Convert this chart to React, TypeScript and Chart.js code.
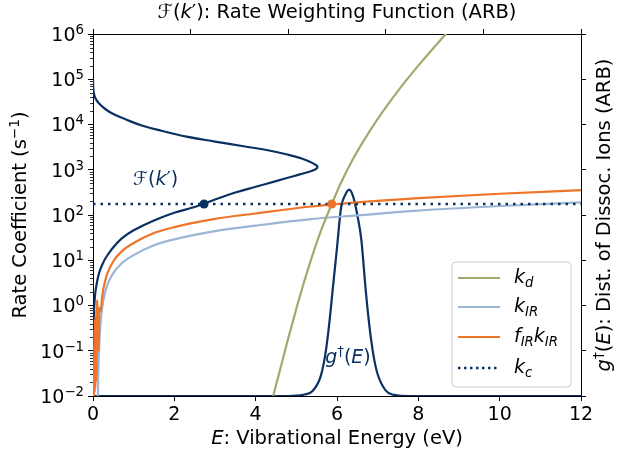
import React, { useEffect, useRef } from "react";
import { Chart, registerables } from "chart.js";

Chart.register(...registerables);

const FAM = "'DejaVu Sans', sans-serif";
const FS = 19;
const TFS = 19.5;

const NAVY = "#0b3162";
const OLIVE = "#a2a86e";
const LBLUE = "#9db5d4";
const ORANGE = "#ee7427";

// ---- axis ticks ----
const xTickVals = [0, 2, 4, 6, 8, 10, 12];
const yExponents = [-2, -1, 0, 1, 2, 3, 4, 5, 6];

// ---- k_d (dissociation rate) ----
const kdEnergy = [4.43, 4.6, 4.8, 5.0, 5.2, 5.4, 5.6, 5.87, 6.1, 6.4, 6.8, 7.2, 7.6, 8.0, 8.4, 8.8, 9.2];
const kdRate = [0.01, 0.038, 0.186, 0.85, 3.55, 13.2, 43.6, 174, 525, 1780, 7080, 24000, 72400, 200000, 525000, 1320000, 3160000];

// ---- k_IR ----
const kirEnergy = [0.12, 0.125, 0.14, 0.17, 0.2, 0.25, 0.35, 0.5, 0.7, 1.0, 1.5, 2.0, 3.0, 4.0, 5.3, 6.5, 8.0, 10.0, 12.0];
const kirRate = [0.01, 0.02, 0.063, 0.25, 0.56, 1.25, 2.8, 5.2, 8.5, 13, 21.5, 29, 44, 58, 80, 98, 125, 158, 190];

// ---- f_IR k_IR ----
const fkirEnergy = [0.025, 0.035, 0.042, 0.05, 0.058, 0.066, 0.074, 0.082, 0.09, 0.1, 0.11, 0.12, 0.13, 0.14, 0.155, 0.19, 0.22, 0.25, 0.3, 0.35, 0.5, 0.7, 1.0, 1.5, 2.0, 3.0, 4.0, 5.3, 6.5, 8.0, 10.0, 12.0];
const fkirRate = [0.01, 0.3, 0.012, 0.5, 0.015, 0.6, 0.02, 0.8, 0.03, 0.9, 1.3, 0.2, 0.7, 0.1, 0.9, 0.72, 1.4, 2.2, 3.5, 5.0, 9.5, 15.5, 24, 40, 54, 82, 108, 152, 190, 235, 295, 355];

// ---- k_c ----
const kcEnergy = [0, 12];
const kcRate = [175, 175];

// ---- F(k') rate weighting function (x: weight, y: rate) ----
const weightF = [0, 0.005, 0.02, 0.06, 0.15, 0.3, 0.5, 0.8, 1.2, 1.7, 2.3, 3.0, 3.7, 4.3, 4.8, 5.15, 5.4, 5.52, 5.45, 5.25, 4.95, 4.5, 4.0, 3.5, 3.0, 2.5, 2.0, 1.5, 1.0, 0.7, 0.45, 0.28, 0.16, 0.09, 0.045, 0.02, 0.007, 0];
const weightK = [100000, 70000, 50000, 38000, 29000, 22000, 17000, 13000, 9500, 7200, 5400, 4200, 3300, 2700, 2150, 1750, 1400, 1170, 1000, 870, 730, 560, 420, 315, 220, 150, 112, 76, 46, 30, 17, 10, 5.6, 3.0, 1.5, 0.5, 0.1, 0.01];

// ---- g†(E) distribution of dissociating ions (ARB, right axis) ----
const gEnergy = [0, 4.8, 5.0, 5.2, 5.4, 5.6, 5.72, 5.8, 5.9, 6.0, 6.1, 6.2, 6.3, 6.4, 6.5, 6.6, 6.7, 6.8, 6.9, 7.0, 7.2, 7.4, 7.6, 8.0, 12];
const gValue = [0, 0, 0.001, 0.004, 0.014, 0.055, 0.12, 0.19, 0.3, 0.41, 0.52, 0.555, 0.57, 0.55, 0.5, 0.43, 0.3, 0.19, 0.11, 0.06, 0.015, 0.003, 0.0005, 0, 0];

// ---- crossing markers ----
const crossEnergy = [2.73, 5.87];
const crossRate = [175, 175];

type Seg = { t: string; it?: boolean; sub?: boolean; sup?: boolean };

const topTitle: Seg[] = [{ t: "\u2131(" }, { t: "k", it: true }, { t: "\u2032): Rate Weighting Function (ARB)" }];
const xTitle: Seg[] = [{ t: "E", it: true }, { t: ": Vibrational Energy (eV)" }];
const yTitle: Seg[] = [{ t: "Rate Coefficient (s" }, { t: "\u22121", sup: true }, { t: ")" }];
const y2Title: Seg[] = [{ t: "g", it: true }, { t: "\u2020", sup: true }, { t: "(" }, { t: "E", it: true }, { t: "): Dist. of Dissoc. Ions (ARB)" }];
const fLabel: Seg[] = [{ t: "\u2131(" }, { t: "k", it: true }, { t: "\u2032)" }];
const gLabel: Seg[] = [{ t: "g", it: true }, { t: "\u2020", sup: true }, { t: "(" }, { t: "E", it: true }, { t: ")" }];

const legendLabels: Seg[][] = [
  [{ t: "k", it: true }, { t: "d", it: true, sub: true }],
  [{ t: "k", it: true }, { t: "IR", it: true, sub: true }],
  [{ t: "f", it: true }, { t: "IR", it: true, sub: true }, { t: "k", it: true }, { t: "IR", it: true, sub: true }],
  [{ t: "k", it: true }, { t: "c", it: true, sub: true }],
];
const legendColors = [OLIVE, LBLUE, ORANGE, NAVY];
const legendDotted = [false, false, false, true];

function fontOf(s: Seg, size: number) {
  const sz = s.sub || s.sup ? size * 0.7 : size;
  return `${s.it ? "italic " : ""}${sz}px ${FAM}`;
}
function richWidth(ctx: CanvasRenderingContext2D, segs: Seg[], size: number) {
  let w = 0;
  for (const s of segs) {
    ctx.font = fontOf(s, size);
    w += ctx.measureText(s.t).width;
  }
  return w;
}
function drawRich(
  ctx: CanvasRenderingContext2D,
  segs: Seg[],
  x: number,
  y: number,
  size: number,
  color: string,
  align: "left" | "center" | "right" = "center",
  rot = 0
) {
  ctx.save();
  ctx.translate(x, y);
  if (rot) ctx.rotate(rot);
  ctx.fillStyle = color;
  ctx.textBaseline = "middle";
  ctx.textAlign = "left";
  const w = richWidth(ctx, segs, size);
  let cx = align === "center" ? -w / 2 : align === "right" ? -w : 0;
  for (const s of segs) {
    ctx.font = fontOf(s, size);
    const dy = s.sub ? size * 0.27 : s.sup ? -size * 0.3 : 0;
    ctx.fillText(s.t, cx, dy);
    cx += ctx.measureText(s.t).width;
  }
  ctx.restore();
}

const textPlugin = {
  id: "richText",
  afterDraw(chart: any) {
    const ctx: CanvasRenderingContext2D = chart.ctx;
    const ca = chart.chartArea;
    const yS = chart.scales.y;
    // minor log ticks on the left axis
    ctx.save();
    ctx.strokeStyle = "#000";
    ctx.lineWidth = 0.8;
    for (let e = -2; e < 6; e++) {
      for (let m = 2; m <= 9; m++) {
        const py = Math.round(yS.getPixelForValue(m * Math.pow(10, e))) + 0.5;
        ctx.beginPath();
        ctx.moveTo(ca.left, py);
        ctx.lineTo(ca.left - 3, py);
        ctx.stroke();
      }
    }
    ctx.restore();
    // left tick labels 10^n
    for (const e of yExponents) {
      const py = yS.getPixelForValue(Math.pow(10, e));
      const exp = e < 0 ? "\u2212" + -e : String(e);
      drawRich(ctx, [{ t: "10" }, { t: exp, sup: true }], ca.left - 9, py + 2, FS, "#000", "right");
    }
    const cx = (ca.left + ca.right) / 2;
    const cy = (ca.top + ca.bottom) / 2;
    drawRich(ctx, topTitle, cx, 13, TFS, "#000", "center");
    drawRich(ctx, xTitle, cx, 439, TFS, "#000", "center");
    drawRich(ctx, yTitle, 21, cy, TFS, "#000", "center", -Math.PI / 2);
    drawRich(ctx, y2Title, 605, cy, TFS, "#000", "center", -Math.PI / 2);

    // in-plot labels
    const xS = chart.scales.x;
    drawRich(ctx, fLabel, xS.getPixelForValue(1.54), yS.getPixelForValue(600), FS, NAVY, "center");
    drawRich(ctx, gLabel, xS.getPixelForValue(6.27), yS.getPixelForValue(0.07), FS, NAVY, "center");

    // legend
    const lx = ca.right - 129;
    const ly = ca.bottom - 134;
    const lw = 119;
    const lh = 125;
    ctx.save();
    ctx.beginPath();
    const r = 4;
    ctx.moveTo(lx + r, ly);
    ctx.arcTo(lx + lw, ly, lx + lw, ly + lh, r);
    ctx.arcTo(lx + lw, ly + lh, lx, ly + lh, r);
    ctx.arcTo(lx, ly + lh, lx, ly, r);
    ctx.arcTo(lx, ly, lx + lw, ly, r);
    ctx.closePath();
    ctx.fillStyle = "rgba(255,255,255,0.8)";
    ctx.fill();
    ctx.strokeStyle = "#cccccc";
    ctx.lineWidth = 1;
    ctx.stroke();
    ctx.restore();
    const rowY = [16, 45, 75, 106];
    legendLabels.forEach((segs, i) => {
      const yy = ly + rowY[i];
      ctx.save();
      ctx.strokeStyle = legendColors[i];
      ctx.lineWidth = legendDotted[i] ? 2.5 : 2.2;
      if (legendDotted[i]) ctx.setLineDash([2.5, 3.5]);
      ctx.beginPath();
      ctx.moveTo(lx + 6, yy);
      ctx.lineTo(lx + 48, yy);
      ctx.stroke();
      ctx.restore();
      drawRich(ctx, segs, lx + 62, yy, FS, "#000", "left");
    });
  },
};

function pts(xs: number[], ys: number[]) {
  return xs.map((x, i) => ({ x, y: ys[i] }));
}

export default function App() {
  const ref = useRef<HTMLCanvasElement | null>(null);
  useEffect(() => {
    if (!ref.current) return;
    const axisCommon = {
      border: { display: true, color: "#000", width: 1 },
    };
    const gridCommon = { drawOnChartArea: false, drawTicks: true, tickLength: 5, color: "#000", tickColor: "#000" };
    const chart = new Chart(ref.current, {
      type: "scatter",
      data: {
        datasets: [
          {
            label: "k_c",
            data: pts(kcEnergy, kcRate),
            showLine: true,
            borderColor: NAVY,
            borderWidth: 2.5,
            borderDash: [2.5, 5],
            pointRadius: 0,
            order: 2,
          },
          {
            label: "crossings",
            data: pts(crossEnergy, crossRate),
            showLine: false,
            pointRadius: 4.5,
            pointBackgroundColor: [NAVY, ORANGE],
            pointBorderColor: [NAVY, ORANGE],
            pointBorderWidth: 0,
            order: 1,
          },
          {
            label: "k_d",
            data: pts(kdEnergy, kdRate),
            showLine: true,
            borderColor: OLIVE,
            borderWidth: 2.2,
            pointRadius: 0,
            cubicInterpolationMode: "monotone",
            order: 3,
          },
          {
            label: "f_IR k_IR",
            data: pts(fkirEnergy, fkirRate),
            showLine: true,
            borderColor: ORANGE,
            borderWidth: 2.2,
            pointRadius: 0,
            cubicInterpolationMode: "monotone",
            order: 4,
          },
          {
            label: "k_IR",
            data: pts(kirEnergy, kirRate),
            showLine: true,
            borderColor: LBLUE,
            borderWidth: 2.2,
            pointRadius: 0,
            cubicInterpolationMode: "monotone",
            order: 5,
          },
          {
            label: "F(k')",
            data: pts(weightF, weightK),
            showLine: true,
            borderColor: NAVY,
            borderWidth: 2.2,
            pointRadius: 0,
            tension: 0.4,
            order: 6,
          },
          {
            label: "g(E)",
            data: pts(gEnergy, gValue),
            yAxisID: "y2",
            showLine: true,
            borderColor: NAVY,
            borderWidth: 2.2,
            pointRadius: 0,
            cubicInterpolationMode: "monotone",
            order: 6,
          },
        ],
      },
      options: {
        responsive: false,
        animation: false,
        devicePixelRatio: 1,
        events: [],
        layout: { padding: 0 },
        plugins: { legend: { display: false }, tooltip: { enabled: false }, title: { display: false } },
        scales: {
          x: {
            type: "linear",
            position: "bottom",
            min: 0,
            max: 12,
            afterBuildTicks: (s: any) => {
              s.ticks = xTickVals.map((v) => ({ value: v }));
            },
            afterFit: (s: any) => {
              s.height = 62;
            },
            ticks: {
              color: "#000",
              font: { family: FAM, size: FS },
              padding: 3,
              maxRotation: 0,
              autoSkip: false,
              callback: (v: any) => String(v),
            },
            grid: gridCommon,
            ...axisCommon,
          },
          x2: {
            type: "linear",
            position: "top",
            axis: "x",
            min: 0,
            max: 1,
            afterBuildTicks: (s: any) => {
              s.ticks = [0, 0.2, 0.4, 0.6, 0.8, 1].map((v) => ({ value: v }));
            },
            afterFit: (s: any) => {
              s.height = 34;
            },
            ticks: { display: false },
            grid: gridCommon,
            ...axisCommon,
          },
          y: {
            type: "logarithmic",
            position: "left",
            min: 0.01,
            max: 1000000,
            afterBuildTicks: (s: any) => {
              s.ticks = yExponents.map((e) => ({ value: Math.pow(10, e) }));
            },
            afterFit: (s: any) => {
              s.width = 93;
            },
            ticks: { display: false },
            grid: gridCommon,
            ...axisCommon,
          },
          y2: {
            type: "linear",
            position: "right",
            min: 0,
            max: 1,
            afterBuildTicks: (s: any) => {
              s.ticks = [0, 0.125, 0.25, 0.375, 0.5, 0.625, 0.75, 0.875, 1].map((v) => ({ value: v }));
            },
            afterFit: (s: any) => {
              s.width = 37;
            },
            ticks: { display: false },
            grid: gridCommon,
            ...axisCommon,
          },
        },
      },
      plugins: [textPlugin],
    } as any);
    return () => chart.destroy();
  }, []);
  return (
    <div style={{ position: "absolute", left: 0, top: 0, width: 618, height: 458, background: "#fff" }}>
      <canvas ref={ref} width={618} height={458} style={{ width: 618, height: 458 }} />
    </div>
  );
}
